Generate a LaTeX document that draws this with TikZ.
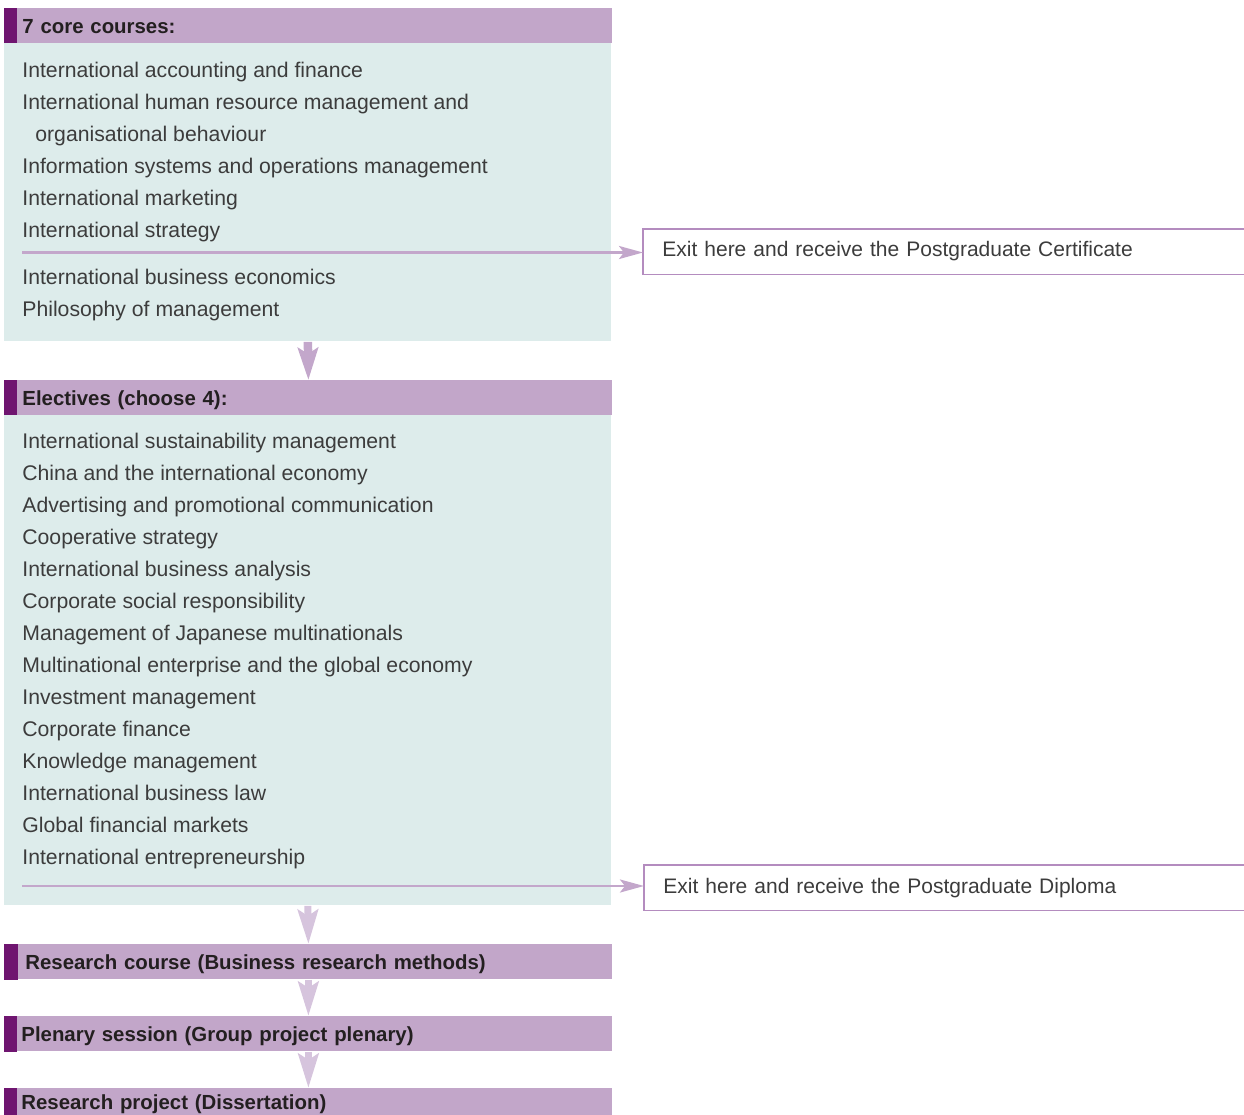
\documentclass[tikz,border=0pt]{standalone}
\usepackage{fontspec}
\setmainfont{Liberation Sans}
\usetikzlibrary{arrows.meta}

\definecolor{hdrfill}{HTML}{C2A6C9}
\definecolor{tabpurple}{HTML}{6F1570}
\definecolor{panelfill}{HTML}{DDECEB}
\definecolor{arrowpurple}{HTML}{C3A7CB}
\definecolor{arrowpale}{HTML}{D6C4DD}
\definecolor{exitline}{HTML}{B48CBF}
\definecolor{textgrey}{HTML}{3C3C3C}
\definecolor{hdrtext}{HTML}{231F20}

\begin{document}
\begin{tikzpicture}[x=0.5pt,y=-0.5pt]
    \tikzstyle{every node}=[font=\fontsize{10.6}{13}\selectfont, text=textgrey]
    \tikzstyle{header}=[fill=hdrfill, anchor=north west, minimum width=304pt,
      minimum height=17.5pt, inner ysep=0pt, inner xsep=9pt, text width=286pt,
      align=left, text height=7.75pt, text depth=0pt,
      font=\fontsize{10.2}{13}\selectfont\bfseries, text=hdrtext]
    \tikzstyle{panel}=[fill=panelfill, anchor=north west, minimum width=303.5pt, inner sep=0pt]
    \tikzstyle{item}=[anchor=base west, inner sep=0pt]
    \tikzstyle{exit}=[anchor=north west, minimum width=300.5pt, minimum height=22.5pt,
      inner ysep=0pt, inner xsep=9.5pt, text width=281.5pt, align=left,
      text height=7.75pt, text depth=3.5pt, font=\fontsize{10.5}{13}\selectfont]
    \tikzstyle{exitarrow}=[draw=arrowpurple, line width=1.3pt,
      -{Stealth[length=12pt, width=6.5pt, inset=2.5pt]}]
    \tikzstyle{downarrow}=[draw=arrowpurple, line width=4.25pt,
      -{Stealth[length=16pt, width=10pt, inset=3pt, fill=arrowpurple]}]
    \tikzstyle{palearrow}=[draw=arrowpale, line width=3.5pt,
      -{Stealth[length=17pt, width=10pt, inset=3pt, fill=arrowpale]}]

    \useasboundingbox (0,0) rectangle (1244,1115);

    % core courses
    \node[header] (core head) at (4,8) {7 core courses:};
    \fill[tabpurple] (core head.north west) rectangle ([xshift=6.5pt]core head.south west);
    \node[panel, minimum height=149pt] (core) at (4,43) {};

    \node[item] (core 1) at (22,77) {International accounting and finance};
    \node[item] (core 2) at (22,109) {International human resource management and};
    \node[item] (core 2b) at (35,141) {organisational behaviour};
    \node[item] (core 3) at (22,173) {Information systems and operations management};
    \node[item] (core 4) at (22,205) {International marketing};
    \node[item] (core 5) at (22,237) {International strategy};
    \node[item] (core 6) at (22,284) {International business economics};
    \node[item] (core 7) at (22,316) {Philosophy of management};

    \node[exit] (cert) at (643,229) {Exit here and receive the Postgraduate Certificate};
    \draw[exitline, line width=0.6pt] (cert.north east) -- (cert.north west)
      -- (cert.south west) -- (cert.south east);
    \coordinate (cert exit) at (22,252.5);
    \draw[exitarrow] (cert exit) -- (cert exit -| cert.west);

    % electives
    \node[header] (elec head) at (4,380) {Electives (choose 4):};
    \fill[tabpurple] (elec head.north west) rectangle ([xshift=6.5pt]elec head.south west);
    \draw[downarrow] (core.south) -- (elec head.north);
    \node[panel, minimum height=245pt] (elec) at (4,415) {};

    \node[item] (elec 1) at (22,448) {International sustainability management};
    \node[item] (elec 2) at (22,480) {China and the international economy};
    \node[item] (elec 3) at (22,512) {Advertising and promotional communication};
    \node[item] (elec 4) at (22,544) {Cooperative strategy};
    \node[item] (elec 5) at (22,576) {International business analysis};
    \node[item] (elec 6) at (22,608) {Corporate social responsibility};
    \node[item] (elec 7) at (22,640) {Management of Japanese multinationals};
    \node[item] (elec 8) at (22,672) {Multinational enterprise and the global economy};
    \node[item] (elec 9) at (22,704) {Investment management};
    \node[item] (elec 10) at (22,736) {Corporate finance};
    \node[item] (elec 11) at (22,768) {Knowledge management};
    \node[item] (elec 12) at (22,800) {International business law};
    \node[item] (elec 13) at (22,832) {Global financial markets};
    \node[item] (elec 14) at (22,864) {International entrepreneurship};

    \node[exit, text depth=2.5pt] (dipl) at (644,865) {Exit here and receive the Postgraduate Diploma};
    \draw[exitline, line width=0.6pt] (dipl.north east) -- (dipl.north west)
      -- (dipl.south west) -- (dipl.south east);
    \coordinate (dipl exit) at (22,886);
    \draw[exitarrow] (dipl exit) -- (dipl exit -| dipl.west);

    % research stages
    \node[header, inner xsep=10.5pt, text width=283pt] (research) at (4,944)
      {Research course (Business research methods)};
    \fill[tabpurple] (research.north west) rectangle ([xshift=7pt]research.south west);
    \draw[palearrow] (elec.south) -- (research.north);

    \node[header, inner xsep=8.5pt, text width=287pt] (plenary) at (4,1016)
      {Plenary session (Group project plenary)};
    \fill[tabpurple] (plenary.north west) rectangle ([xshift=6.5pt]plenary.south west);
    \draw[palearrow] (research.south) -- (plenary.north);

    \node[header, inner xsep=8.5pt, text width=287pt, minimum height=13.5pt] (project) at (4,1088)
      {Research project (Dissertation)};
    \fill[tabpurple] (project.north west) rectangle ([xshift=6.5pt]project.south west);
    \draw[palearrow] (plenary.south) -- (project.north);

\end{tikzpicture}
\end{document}
